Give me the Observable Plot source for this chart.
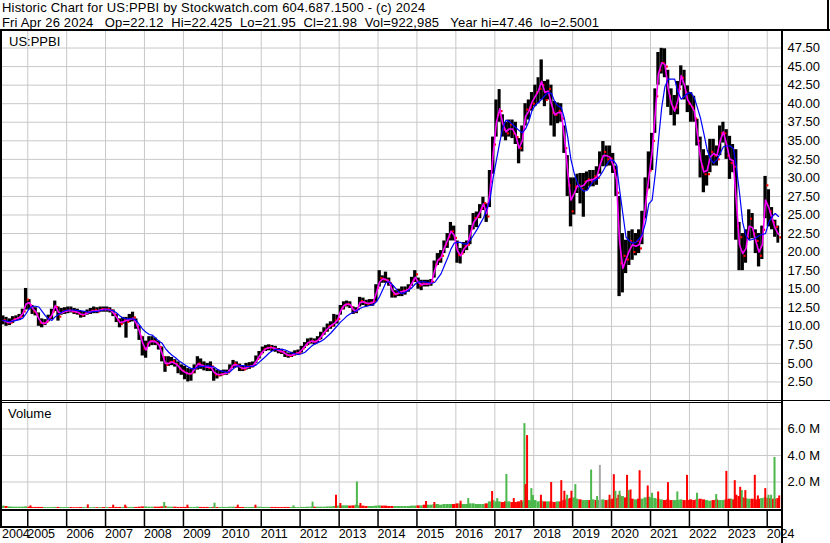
<!DOCTYPE html>
<html><head><meta charset="utf-8">
<script src="https://cdn.jsdelivr.net/npm/d3@7"></script>
<script src="https://cdn.jsdelivr.net/npm/@observablehq/plot@0.6"></script>
<style>
body{margin:0;background:#fff;}
#wrap{position:relative;width:830px;height:543px;overflow:hidden;background:#fff;font-family:"Liberation Sans",Arial,sans-serif;color:#000;}
.t{position:absolute;font-size:13px;line-height:13px;white-space:pre;}
.ln{position:absolute;background:#000;}
.pane{position:absolute;left:0;}
</style></head>
<body><div id="wrap">
<div class="t" style="left:2px;top:1px;letter-spacing:0.19px">Historic Chart for US:PPBI by Stockwatch.com 604.687.1500 - (c) 2024</div>
<div class="t" style="left:2px;top:15.5px;letter-spacing:0.17px">Fri Apr 26 2024   Op=22.12  Hi=22.425  Lo=21.95  Cl=21.98  Vol=922,985   Year hi=47.46  lo=2.5001</div>
<div id="price" class="pane" style="top:31px"></div>
<div id="volume" class="pane" style="top:403px"></div>
<div id="years" class="pane" style="top:509px"></div>
<div class="t" style="left:9px;top:35px">US:PPBI</div>
<div class="t" style="left:8px;top:407px">Volume</div>
<div class="ln" style="left:0;top:29px;width:830px;height:2px"></div>
<div class="ln" style="left:827px;top:0;width:2px;height:30px"></div>
<div class="ln" style="left:0;top:31px;width:2px;height:497px"></div>
<div class="ln" style="left:781px;top:31px;width:2px;height:512px"></div>
<div class="ln" style="left:0;top:400px;width:830px;height:1px"></div>
<div class="ln" style="left:0;top:402px;width:781px;height:1px"></div>
<div class="ln" style="left:0;top:509px;width:781px;height:2px"></div>
<div class="ln" style="left:0;top:526px;width:781px;height:2px"></div>
</div>
<script>
// Monthly data, May 2004 .. Apr 2024 (240 months)
const lo = [
 10.2,10.0,10.1,10.4,10.7,10.8,11.2,12.2,
 12.2,11.6,11.4,10.0,9.8,10.1,10.6,10.9,12.0,10.7,11.5,11.6,
 11.7,11.8,11.6,11.5,11.1,11.2,11.5,11.6,11.7,11.7,11.9,11.9,
 11.9,11.8,11.3,10.5,9.8,10.3,8.4,10.5,10.6,9.6,8.1,6.0,
 5.7,7.2,7.4,7.4,6.8,5.2,3.8,4.6,4.7,4.5,3.6,3.4,
 2.8,2.5,2.6,3.6,4.1,4.2,4.0,3.9,3.9,2.6,2.9,3.2,
 3.4,3.4,4.0,4.3,4.4,3.9,3.9,4.1,4.2,4.4,5.0,5.6,
 6.3,6.6,6.7,6.6,6.5,6.3,6.2,5.8,5.7,5.8,6.0,6.1,
 6.4,7.0,7.4,7.6,7.5,7.8,8.2,8.8,9.2,9.6,9.9,10.3,
 11.5,12.2,12.6,12.4,11.6,11.7,12.6,12.8,12.6,12.7,12.7,13.3,
 15.3,15.8,15.8,15.4,13.8,13.8,14.0,14.0,14.2,14.6,15.4,15.9,
 15.0,14.8,15.3,15.3,15.4,16.5,18.2,18.5,19.8,20.5,21.5,21.5,
 18.5,18.4,19.8,20.2,21.0,23.0,23.3,24.5,25.6,24.0,26.0,30.5,
 35.5,37.5,35.5,35.0,35.5,35.3,34.5,31.9,33.5,37.0,37.8,39.0,
 39.6,40.0,40.5,39.6,40.5,37.0,35.5,37.3,37.5,33.3,27.5,23.4,
 25.0,27.9,26.5,24.7,28.3,28.8,28.8,29.0,30.5,31.5,31.5,31.6,
 30.6,27.5,14.0,14.5,17.1,18.2,18.9,19.5,19.8,21.0,24.5,28.5,
 31.0,36.0,42.5,44.0,43.5,39.5,38.4,37.0,38.5,42.4,40.5,38.8,
 37.5,37.5,34.3,30.0,28.0,28.9,30.7,31.6,31.6,33.0,34.7,32.5,
 29.8,30.7,21.6,17.5,17.5,18.5,21.6,21.8,19.8,18.0,19.0,24.5,
 23.4,23.0,22.0,21.2
];
const hi = [
 11.4,11.2,11.0,11.3,11.4,11.6,12.3,15.1,
 13.6,12.8,12.5,11.8,11.0,10.9,11.5,12.3,13.4,12.6,12.4,12.5,
 12.6,12.6,12.4,12.3,12.0,12.0,12.2,12.4,12.6,12.5,12.6,12.6,
 12.6,12.5,12.2,11.6,11.0,11.2,11.2,11.6,11.9,11.0,10.0,8.6,
 8.0,8.6,8.6,8.4,8.0,7.2,5.9,5.9,5.8,5.5,5.2,4.8,
 4.6,4.3,4.2,4.8,5.9,5.6,5.2,5.0,5.2,4.3,4.1,4.0,
 4.1,4.1,4.8,5.4,5.2,4.9,4.6,5.0,5.1,5.2,6.0,6.6,
 7.2,7.4,7.5,7.4,7.3,7.0,6.9,6.6,6.4,6.5,6.7,6.8,
 7.3,7.8,8.3,8.4,8.3,8.6,9.2,9.8,10.3,10.6,11.6,11.5,
 12.8,13.3,13.4,13.3,12.6,12.5,13.9,13.8,13.5,13.6,13.6,15.6,
 17.5,16.8,17.3,16.5,15.5,14.8,15.0,15.3,15.3,15.6,16.6,17.5,
 16.5,16.2,16.2,16.2,16.3,18.8,19.8,20.2,21.5,22.5,24.0,23.5,
 21.5,20.5,21.3,21.5,23.6,25.2,25.4,26.4,27.4,26.5,31.0,35.5,
 40.5,41.9,38.5,37.5,37.8,37.8,37.5,35.3,37.0,40.0,40.5,41.5,
 42.5,43.5,45.9,43.0,43.2,42.5,40.3,40.1,40.0,37.0,33.0,30.0,
 30.0,30.5,30.6,30.6,30.8,31.0,31.0,31.5,33.5,34.9,34.3,34.3,
 33.3,31.6,27.5,22.5,21.6,22.8,23.0,22.5,23.0,25.5,30.0,33.5,
 36.0,42.0,46.9,47.46,47.4,44.5,42.0,41.1,43.0,45.1,44.5,42.4,
 41.5,41.0,37.9,35.5,33.8,33.0,35.2,35.2,34.3,37.0,37.5,36.5,
 35.6,34.5,33.8,24.0,22.5,23.0,25.7,25.2,23.0,22.5,23.5,30.2,
 28.4,26.0,24.3,23.5
];
const cl = [
 10.8,10.5,10.5,11.0,11.1,11.3,12.0,13.6,
 12.8,12.0,11.6,10.5,10.4,10.6,11.2,12.0,12.6,11.3,12.0,12.1,
 12.2,12.0,11.9,11.7,11.5,11.8,11.9,12.1,12.2,12.0,12.3,12.2,
 12.3,12.1,11.6,10.8,10.3,10.8,10.6,11.0,11.2,10.0,8.6,7.0,
 7.6,8.0,8.0,7.7,7.2,5.8,4.8,5.2,5.3,4.9,4.3,4.0,
 3.7,3.6,3.8,4.4,5.0,4.7,4.6,4.4,4.6,3.5,3.4,3.5,
 3.7,3.8,4.5,5.0,4.7,4.3,4.2,4.6,4.6,4.8,5.6,6.3,
 6.9,7.1,7.2,7.0,6.9,6.6,6.5,6.1,6.0,6.2,6.4,6.4,
 7.0,7.5,7.9,8.0,7.8,8.3,8.9,9.4,10.0,10.1,10.8,11.0,
 12.5,12.9,13.0,12.6,12.0,12.3,13.4,13.2,13.0,13.2,13.3,15.2,
 16.5,16.3,16.2,15.8,14.3,14.4,14.6,14.8,14.9,15.2,16.2,17.0,
 15.5,15.8,15.7,15.8,16.0,18.3,19.0,19.5,21.0,22.0,22.8,21.9,
 19.6,19.8,20.8,21.0,23.2,24.6,24.8,25.9,26.6,24.8,29.5,34.5,
 38.5,39.0,36.5,36.0,37.2,36.0,35.5,34.0,36.6,39.2,39.5,40.0,
 41.5,42.0,42.5,40.5,42.0,38.8,38.5,39.0,38.0,34.0,29.0,25.5,
 28.8,29.0,28.5,29.5,29.8,29.5,30.2,30.0,32.5,33.5,32.5,32.6,
 31.0,28.0,18.5,19.5,19.0,21.5,20.0,21.5,20.5,24.5,28.5,31.0,
 35.0,41.0,44.5,45.5,45.0,41.0,39.5,39.5,42.0,43.5,41.5,40.0,
 39.5,38.0,35.0,31.5,30.5,30.5,33.5,33.0,32.5,36.0,36.0,33.0,
 32.0,31.5,23.5,22.0,19.5,22.0,24.5,22.5,21.5,19.5,23.0,29.0,
 25.5,24.0,23.4,21.98
];
// magenta (short) moving average
const maShort = [
 10.8,10.6,10.5,10.8,11.0,11.2,11.7,13.0,
 13.2,12.4,12.0,11.0,10.4,10.4,10.9,11.5,12.8,11.9,11.8,12.0,
 12.1,12.1,12.0,11.9,11.6,11.6,11.8,12.0,12.1,12.1,12.2,12.3,
 12.3,12.2,11.8,11.2,10.5,10.6,10.8,10.9,11.1,10.4,9.3,7.7,
 6.8,7.9,8.0,7.9,7.5,6.3,5.0,5.0,5.2,5.0,4.6,4.1,
 3.8,3.6,3.6,4.2,4.9,4.8,4.6,4.5,4.5,3.8,3.5,3.5,
 3.6,3.7,4.2,4.8,4.8,4.5,4.3,4.4,4.6,4.7,5.3,6.0,
 6.6,7.0,7.1,7.1,7.0,6.7,6.6,6.3,6.1,6.1,6.3,6.4,
 6.8,7.3,7.8,8.0,7.9,8.1,8.6,9.2,9.7,10.1,10.4,10.8,
 12.1,12.8,13.0,12.9,12.2,12.1,13.2,13.3,13.1,13.1,13.2,14.5,
 16.0,16.4,16.3,16.0,14.8,14.3,14.5,14.7,14.8,15.0,15.8,16.6,
 15.9,15.6,15.7,15.7,15.8,17.5,18.9,19.3,20.6,21.6,22.8,22.3,
 20.2,19.5,20.4,20.9,22.4,24.0,24.6,25.4,26.5,25.2,28.0,33.2,
 37.5,39.3,37.3,36.2,36.6,36.6,35.8,34.0,35.0,38.3,39.0,40.2,
 41.0,41.8,43.0,41.5,41.7,40.0,38.5,38.8,38.8,35.5,30.8,27.0,
 27.9,29.0,28.8,29.0,29.6,29.7,29.8,30.1,31.8,33.0,33.0,32.8,
 31.8,29.8,21.5,17.8,19.0,20.2,21.0,20.8,21.0,22.3,26.5,30.0,
 33.5,39.0,44.0,45.5,45.3,42.0,40.0,39.0,40.5,43.8,42.5,40.5,
 39.8,39.0,36.0,32.5,30.8,31.0,32.8,33.3,33.0,35.0,36.2,34.5,
 32.5,32.3,27.0,21.0,19.8,20.5,23.5,23.3,21.5,20.0,21.0,27.0,
 26.0,24.5,23.2,22.4
];
// blue (long) moving average
const maLong = [
 10.8,10.7,10.6,10.7,10.8,10.9,11.1,11.7,
 12.4,12.7,12.7,12.6,12.0,11.4,11.0,10.8,11.3,11.6,11.9,12.1,
 12.2,12.2,12.2,12.1,12.1,12.0,11.9,11.9,12.0,12.0,12.1,12.2,
 12.2,12.2,12.1,11.8,11.4,11.1,11.0,11.0,11.0,10.8,10.2,9.6,
 9.2,8.9,8.8,8.4,8.0,7.7,7.0,6.5,6.1,5.8,5.4,5.1,
 4.8,4.5,4.3,4.3,4.5,4.6,4.6,4.7,4.6,4.5,4.2,4.0,
 3.9,3.8,3.9,4.3,4.6,4.7,4.7,4.6,4.6,4.6,4.8,5.2,
 5.6,6.0,6.4,6.7,6.9,6.9,6.9,6.8,6.6,6.4,6.3,6.2,
 6.3,6.5,6.9,7.3,7.6,7.8,8.0,8.3,8.7,9.1,9.6,10.1,
 10.6,11.0,11.4,11.7,11.9,12.1,12.4,12.6,12.7,12.8,12.9,13.3,
 14.0,15.0,15.9,16.0,15.6,15.1,14.6,14.4,14.6,14.9,15.2,15.7,
 16.0,16.0,16.0,15.9,15.8,15.9,16.5,17.1,18.2,19.2,20.4,21.2,
 21.3,21.3,21.1,21.1,21.6,22.3,23.0,23.8,24.6,25.7,27.0,30.0,
 32.4,34.8,36.7,37.8,37.6,37.2,36.8,36.4,36.1,36.6,37.6,39.1,
 39.8,40.2,40.6,41.1,41.5,41.4,40.3,39.7,39.5,38.0,35.5,32.5,
 30.6,29.3,28.6,28.2,28.3,29.0,29.6,29.8,30.3,31.0,31.8,32.4,
 32.4,31.8,28.5,25.2,22.0,21.5,21.2,21.3,21.8,22.4,24.0,26.5,
 27.0,30.7,35.0,39.5,42.3,43.3,43.3,43.3,41.5,40.6,41.0,41.4,
 41.5,40.8,39.5,38.0,36.0,33.8,32.6,32.0,32.4,33.3,34.2,34.3,
 34.3,34.0,31.6,28.0,24.0,22.2,21.6,21.7,21.9,22.2,22.4,22.5,
 24.0,24.8,25.2,24.8
];
// typical monthly volume (millions)
const volBase = [
 0.18,0.15,0.12,0.1,0.1,0.1,0.1,0.12,
 0.1,0.08,0.08,0.08,0.08,0.07,0.07,0.07,0.08,0.08,0.07,0.07,
 0.07,0.07,0.06,0.06,0.07,0.07,0.06,0.06,0.06,0.06,0.07,0.07,
 0.07,0.07,0.08,0.08,0.08,0.08,0.1,0.08,0.08,0.08,0.1,0.12,
 0.12,0.1,0.1,0.1,0.1,0.12,0.15,0.1,0.1,0.1,0.08,0.08,
 0.08,0.08,0.08,0.08,0.1,0.08,0.08,0.08,0.08,0.08,0.08,0.08,
 0.08,0.08,0.1,0.1,0.08,0.08,0.08,0.08,0.08,0.08,0.1,0.1,
 0.08,0.08,0.08,0.08,0.08,0.07,0.07,0.08,0.08,0.08,0.08,0.07,
 0.08,0.08,0.1,0.1,0.1,0.1,0.1,0.1,0.12,0.12,0.15,0.18,
 0.2,0.2,0.2,0.18,0.2,0.25,0.2,0.18,0.15,0.15,0.15,0.18,
 0.2,0.18,0.18,0.15,0.15,0.15,0.15,0.15,0.15,0.15,0.18,0.18,
 0.2,0.2,0.25,0.25,0.25,0.3,0.3,0.25,0.3,0.3,0.3,0.3,
 0.35,0.35,0.3,0.3,0.35,0.35,0.3,0.3,0.3,0.35,0.5,0.6,
 0.5,0.5,0.45,0.5,0.5,0.45,0.45,0.5,0.5,0.6,0.6,0.55,
 0.6,0.5,0.55,0.5,0.5,0.5,0.45,0.5,0.5,0.6,0.7,0.75,
 0.8,0.7,0.65,0.6,0.6,0.6,0.65,0.6,0.6,0.65,0.6,0.65,
 0.7,0.75,1.0,0.9,0.8,0.75,0.7,0.65,0.7,0.7,0.8,0.85,
 0.8,0.75,0.7,0.65,0.6,0.65,0.6,0.6,0.6,0.65,0.6,0.6,
 0.65,0.6,0.65,0.7,0.65,0.6,0.55,0.6,0.65,0.6,0.6,0.65,
 0.7,0.65,1.0,0.9,0.8,0.75,0.7,0.7,0.65,0.7,0.75,0.8,
 0.75,0.7,0.7,0.75
];
// individual high-volume days (millions)
const spikeDates = ["2005-01-26","2006-07-18","2007-03-13","2007-07-04","2008-07-04","2009-02-07","2009-10-19","2010-05-25","2010-11-07","2011-10-30","2012-04-26","2012-12-02","2013-01-12","2013-06-16","2013-07-19","2015-03-27","2015-06-13","2016-02-14","2016-04-26","2016-12-06","2017-01-23","2017-04-19","2017-06-27","2017-09-06","2017-10-05","2017-10-16","2017-10-30","2017-12-09","2017-12-24","2018-03-09","2018-06-13","2018-09-16","2018-10-15","2018-11-10","2018-12-20","2019-01-26","2019-06-23","2019-08-18","2019-09-13","2019-12-13","2020-01-22","2020-02-06","2020-03-16","2020-05-25","2020-06-09","2020-06-27","2020-09-20","2020-12-05","2021-01-15","2021-03-13","2021-06-13","2021-09-09","2021-12-09","2022-03-13","2022-09-09","2022-12-13","2023-01-30","2023-03-02","2023-04-22","2023-05-07","2023-06-09","2023-09-06","2023-10-05","2023-12-13","2024-01-12","2024-02-06","2024-03-09","2024-04-22"];
const spikeVols = [0.2,0.27,0.25,0.25,0.45,0.25,0.4,0.25,0.25,0.2,0.48,1.0,0.38,2.0,0.38,0.53,0.45,0.55,0.75,1.28,0.75,2.57,0.75,0.6,6.4,1.8,5.5,1.5,0.98,1.0,1.96,2.1,1.3,1.0,1.3,1.8,2.9,0.9,3.25,1.0,2.55,1.3,1.3,2.5,1.35,1.4,2.85,1.7,1.15,1.25,1.95,1.25,2.5,1.15,1.05,2.8,0.7,2.1,1.6,1.35,1.35,2.5,0.95,1.5,1.0,1.0,3.85,0.95];
const spikeSide = ["r","r","r","r","g","r","g","r","r","g","g","r","r","g","r","r","r","r","g","r","g","g","r","r","g","r","r","g","g","r","r","r","r","g","r","g","g","g","x","r","r","g","g","r","g","r","r","r","g","r","r","g","r","g","g","r","g","r","r","g","r","r","r","r","g","g","g","r"];
const priceTicks = [2.5,5,7.5,10,12.5,15,17.5,20,22.5,25,27.5,30,32.5,35,37.5,40,42.5,45,47.5];
const volTicks = [2,4,6];
const yearLabels = ["2004","2005","2006","2007","2008","2009","2010","2011","2012","2013","2014","2015","2016","2017","2018","2019","2020","2021","2022","2023","2024"];

const RED = "#ff0000", GREEN = "#4cb84c", GRAY = "#a8a8a8", GRID = "#c8c8c8";
const xDomain = [new Date(Date.UTC(2004,4,9)), new Date(Date.UTC(2024,4,14))];
const lastDay = new Date(Date.UTC(2024,3,27));
const months = d3.utcMonth.range(new Date(Date.UTC(2004,4,1)), new Date(Date.UTC(2024,4,1)));
const rows = months.map((d, i) => {
  const end = d3.utcMonth.offset(d, 1);
  return {
    start: i === 0 ? xDomain[0] : d,
    end: end > lastDay ? lastDay : end,
    mid: d3.utcDay.offset(d, 15),
    lo: lo[i], hi: hi[i], cl: cl[i], s: maShort[i], l: maLong[i],
    vol: volBase[i],
    col: (i === 0 || cl[i] >= cl[i-1]) ? GREEN : RED
  };
});
const spikes = spikeDates.map((d, i) => ({
  date: new Date(d + "T12:00:00Z"), vol: spikeVols[i],
  col: spikeSide[i] === "g" ? GREEN : spikeSide[i] === "r" ? RED : GRAY
}));
const yearStarts = yearLabels.slice(1).map(y => new Date(Date.UTC(+y, 0, 1)));
const labelRows = yearLabels.map((y, i) => ({x: i === 0 ? xDomain[0] : new Date(Date.UTC(+y, 0, 1)), t: y, dx: i === 0 ? -0.5 : 3}));

const font = {fontFamily: "'Liberation Sans', Arial, sans-serif", fontSize: "13px", color: "#000", background: "transparent", overflow: "visible"};
const xOpt = {type: "utc", domain: xDomain, axis: null};

const price = Plot.plot({
  width: 830, height: 369, marginLeft: 2, marginRight: 49, marginTop: 0, marginBottom: 0,
  style: font,
  x: xOpt,
  y: {domain: [0, 49.73], axis: "right", ticks: priceTicks, tickSize: 0, tickPadding: 6, tickFormat: d => d.toFixed(2), label: null},
  marks: [
    Plot.ruleY(priceTicks, {stroke: GRID, strokeWidth: 1}),
    Plot.ruleX(yearStarts, {stroke: GRID, strokeWidth: 1}),
    Plot.rect(rows, {x1: "start", x2: "end", y1: "lo", y2: "hi", fill: "#000", clip: true}),
    Plot.dot(rows, {x: "mid", y: "cl", symbol: "square", r: 1.2, fill: RED, stroke: null, dx: 1.8, clip: true}),
    Plot.line(rows, {x: "mid", y: "s", stroke: "#ff00ff", strokeWidth: 1.6, clip: true}),
    Plot.line(rows, {x: "mid", y: "l", stroke: "#0000ff", strokeWidth: 1.2, clip: true})
  ]
});
document.getElementById("price").appendChild(price);

const volume = Plot.plot({
  width: 830, height: 106, marginLeft: 2, marginRight: 49, marginTop: 0, marginBottom: 1,
  style: font,
  x: xOpt,
  y: {domain: [0, 7.92], axis: "right", ticks: volTicks, tickSize: 0, tickPadding: 6, tickFormat: d => d.toFixed(1) + " M", label: null},
  marks: [
    Plot.ruleY(volTicks, {stroke: GRID, strokeWidth: 1}),
    Plot.ruleX(yearStarts, {stroke: GRID, strokeWidth: 1}),
    Plot.rect(rows, {x1: "start", x2: "end", y1: 0, y2: "vol", fill: "col", clip: true}),
    Plot.ruleX(spikes, {x: "date", y1: 0, y2: "vol", stroke: "col", strokeWidth: 2, clip: true})
  ]
});
document.getElementById("volume").appendChild(volume);

const years = Plot.plot({
  width: 830, height: 34, marginLeft: 2, marginRight: 49, marginTop: 0, marginBottom: 0,
  style: font,
  x: xOpt,
  y: {domain: [0, 34], range: [0, 34], axis: null},
  marks: [
    Plot.ruleX(yearStarts, {y1: 1, y2: 17, stroke: "#000", strokeWidth: 1.5}),
    Plot.text(labelRows, {x: "x", y: () => 25, text: "t", textAnchor: "start", dx: "dx", fill: "#000", fontSize: 12.5})
  ]
});
document.getElementById("years").appendChild(years);
</script>
</body></html>
